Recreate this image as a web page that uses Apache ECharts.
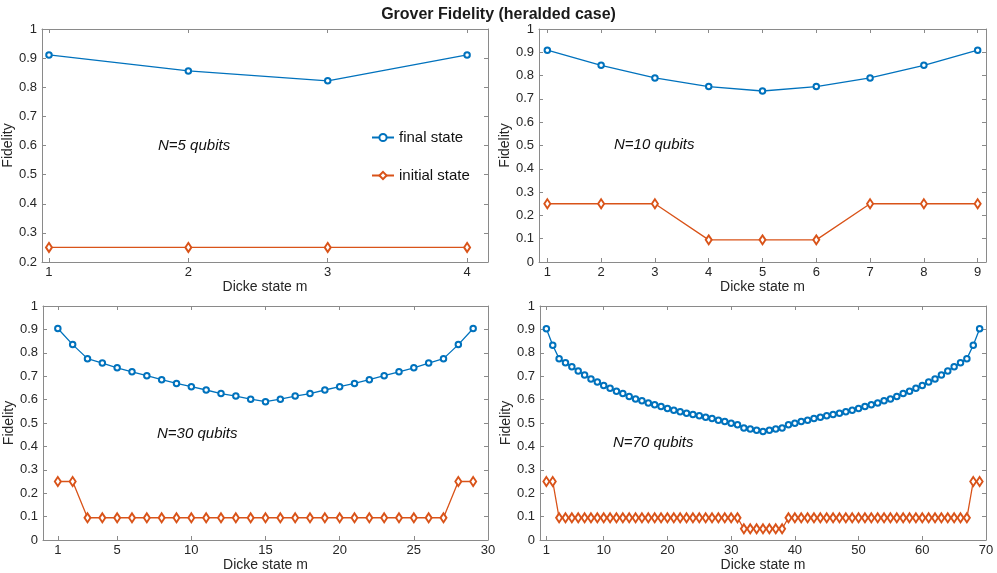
<!DOCTYPE html>
<html>
<head>
<meta charset="utf-8">
<script src="https://cdn.jsdelivr.net/npm/echarts@6/dist/echarts.min.js"></script>
<style>
html,body{margin:0;padding:0;background:#fff;}
#chart{width:997px;height:573px;}
</style>
</head>
<body>
<div id="chart"></div>
<script>
// ---- data ----
var m5 = [1, 2, 3, 4];
var final5 = [0.911, 0.856, 0.822, 0.911];
var init5 = [0.25, 0.25, 0.25, 0.25];

var m10 = [1, 2, 3, 4, 5, 6, 7, 8, 9];
var final10 = [0.909, 0.844, 0.790, 0.753, 0.734, 0.753, 0.790, 0.844, 0.909];
var init10 = [0.25, 0.25, 0.25, 0.095, 0.095, 0.095, 0.25, 0.25, 0.25];

var m30 = [1,2,3,4,5,6,7,8,9,10,11,12,13,14,15,16,17,18,19,20,21,22,23,24,25,26,27,28,29];
var final30 = [0.904,0.835,0.775,0.756,0.736,0.719,0.702,0.685,0.669,0.655,0.641,0.626,0.615,0.602,0.591,
               0.602,0.615,0.626,0.641,0.655,0.669,0.685,0.702,0.719,0.736,0.756,0.775,0.835,0.904];
var init30 = [0.25,0.25,0.095,0.095,0.095,0.095,0.095,0.095,0.095,0.095,0.095,0.095,0.095,0.095,0.095,
              0.095,0.095,0.095,0.095,0.095,0.095,0.095,0.095,0.095,0.095,0.095,0.095,0.25,0.25];

var m70 = [1,2,3,4,5,6,7,8,9,10,11,12,13,14,15,16,17,18,19,20,21,22,23,24,25,26,27,28,29,30,31,32,33,34,35,
           36,37,38,39,40,41,42,43,44,45,46,47,48,49,50,51,52,53,54,55,56,57,58,59,60,61,62,63,64,65,66,67,68,69];
var final70 = [0.903,0.832,0.775,0.757,0.740,0.722,0.705,0.688,0.675,0.660,0.648,0.636,0.626,0.613,0.603,0.595,0.586,0.578,
               0.571,0.562,0.555,0.548,0.542,0.536,0.531,0.525,0.519,0.512,0.506,0.499,0.492,0.479,0.474,0.469,0.464,
               0.469,0.474,0.479,0.492,0.499,0.506,0.512,0.519,0.525,0.531,0.536,0.542,0.548,0.555,0.562,0.571,0.578,
               0.586,0.595,0.603,0.613,0.626,0.636,0.648,0.660,0.675,0.688,0.705,0.722,0.740,0.757,0.775,0.832,0.903];
var init70 = [0.25,0.25,
              0.095,0.095,0.095,0.095,0.095,0.095,0.095,0.095,0.095,0.095,0.095,0.095,0.095,0.095,0.095,
              0.095,0.095,0.095,0.095,0.095,0.095,0.095,0.095,0.095,0.095,0.095,0.095,0.095,0.095,
              0.048,0.048,0.048,0.048,0.048,0.048,0.048,
              0.095,0.095,0.095,0.095,0.095,0.095,0.095,0.095,0.095,0.095,0.095,0.095,0.095,0.095,0.095,
              0.095,0.095,0.095,0.095,0.095,0.095,0.095,0.095,0.095,0.095,0.095,0.095,0.095,0.095,
              0.25,0.25];

var xTicks5 = [1, 2, 3, 4];
var xTicks10 = [1, 2, 3, 4, 5, 6, 7, 8, 9];
var xTicks30 = [1, 5, 10, 15, 20, 25, 30];
var xTicks70 = [1, 10, 20, 30, 40, 50, 60, 70];

var titleText = 'Grover Fidelity (heralded case)';
var xName = 'Dicke state m';
var yName = 'Fidelity';
var seriesNames = ['final state', 'initial state'];
var panelLabels = ['N=5 qubits', 'N=10 qubits', 'N=30 qubits', 'N=70 qubits'];

// ---- styling ----
var FONT = '"Liberation Sans", Arial, Helvetica, sans-serif';
var BLUE = '#0072BD';
var ORANGE = '#D95319';
var FRAME = '#8a8a8a';
var LABEL = '#262626';

var panels = [
  {grid: {left: 42, top: 29, width: 446, height: 233}, xmin: 0.95, xmax: 4.15, ymin: 0.2, ticks: xTicks5, m: m5, f: final5, i: init5},
  {grid: {left: 539, top: 29, width: 447, height: 233}, xmin: 0.845, xmax: 9.155, ymin: 0, ticks: xTicks10, m: m10, f: final10, i: init10},
  {grid: {left: 43, top: 306, width: 445, height: 234}, xmin: 0, xmax: 30, ymin: 0, ticks: xTicks30, m: m30, f: final30, i: init30},
  {grid: {left: 540, top: 306, width: 446, height: 234}, xmin: 0, xmax: 70, ymin: 0, ticks: xTicks70, m: m70, f: final70, i: init70}
];

function pairs(xs, ys) {
  var out = [];
  for (var k = 0; k < xs.length; k++) out.push([xs[k], ys[k]]);
  return out;
}

var grids = [], xAxes = [], yAxes = [], series = [];
panels.forEach(function (p, idx) {
  grids.push(p.grid);
  var common = {
    type: 'value', gridIndex: idx, min: p.xmin, max: p.xmax,
    splitLine: {show: false},
    axisLine: {show: true, onZero: false, lineStyle: {color: FRAME, width: 1}},
    axisTick: {show: true, inside: true, length: 4, lineStyle: {color: FRAME}, customValues: p.ticks}
  };
  xAxes.push(Object.assign({}, common, {
    position: 'bottom',
    name: xName, nameLocation: 'middle', nameGap: 17,
    nameTextStyle: {fontFamily: FONT, fontSize: 14, color: LABEL},
    axisLabel: {show: true, customValues: p.ticks, margin: 4, fontFamily: FONT, fontSize: 13, color: LABEL}
  }));
  xAxes.push(Object.assign({}, common, {
    position: 'top', axisLabel: {show: false}
  }));
  var ycommon = {
    type: 'value', gridIndex: idx, min: p.ymin, max: 1, interval: 0.1,
    splitLine: {show: false},
    axisLine: {show: true, onZero: false, lineStyle: {color: FRAME, width: 1}},
    axisTick: {show: true, inside: true, length: 4, lineStyle: {color: FRAME}}
  };
  yAxes.push(Object.assign({}, ycommon, {
    position: 'left',
    name: yName, nameLocation: 'middle', nameGap: 20,
    nameTextStyle: {fontFamily: FONT, fontSize: 14, color: LABEL},
    axisLabel: {show: true, margin: 5, fontFamily: FONT, fontSize: 13, color: LABEL}
  }));
  yAxes.push(Object.assign({}, ycommon, {
    position: 'right', axisLabel: {show: false}
  }));
  series.push({
    name: seriesNames[0], type: 'line', xAxisIndex: idx * 2, yAxisIndex: idx * 2,
    data: pairs(p.m, p.f),
    symbol: 'emptyCircle', symbolSize: 5.5,
    itemStyle: {color: BLUE, borderWidth: 1.2},
    lineStyle: {color: BLUE, width: 1.3}
  });
  series.push({
    name: seriesNames[1], type: 'line', xAxisIndex: idx * 2, yAxisIndex: idx * 2,
    data: pairs(p.m, p.i),
    symbol: 'emptyDiamond', symbolSize: [6, 9],
    itemStyle: {color: ORANGE, borderWidth: 1.2},
    lineStyle: {color: ORANGE, width: 1.3}
  });
});

var labelPos = [[158, 146], [614, 145], [157, 434], [613, 443]];
var graphics = panelLabels.map(function (t, k) {
  return {
    type: 'text', x: labelPos[k][0], y: labelPos[k][1], silent: true,
    style: {text: t, fontFamily: FONT, fontSize: 15, fontStyle: 'italic', fill: '#111', verticalAlign: 'middle'}
  };
});

var chart = echarts.init(document.getElementById('chart'), null, {renderer: 'canvas'});
chart.setOption({
  animation: false,
  backgroundColor: '#fff',
  title: {text: titleText, left: 'center', top: 2,
          textStyle: {fontFamily: FONT, fontSize: 16, fontWeight: 'bold', color: '#1a1a1a'}},
  legend: {
    data: seriesNames, orient: 'vertical', left: 366, top: 125, itemGap: 23,
    itemWidth: 22, itemHeight: 9, selectedMode: false,
    textStyle: {fontFamily: FONT, fontSize: 15, color: '#111'}
  },
  grid: grids,
  xAxis: xAxes,
  yAxis: yAxes,
  series: series,
  graphic: graphics
});
</script>
</body>
</html>
